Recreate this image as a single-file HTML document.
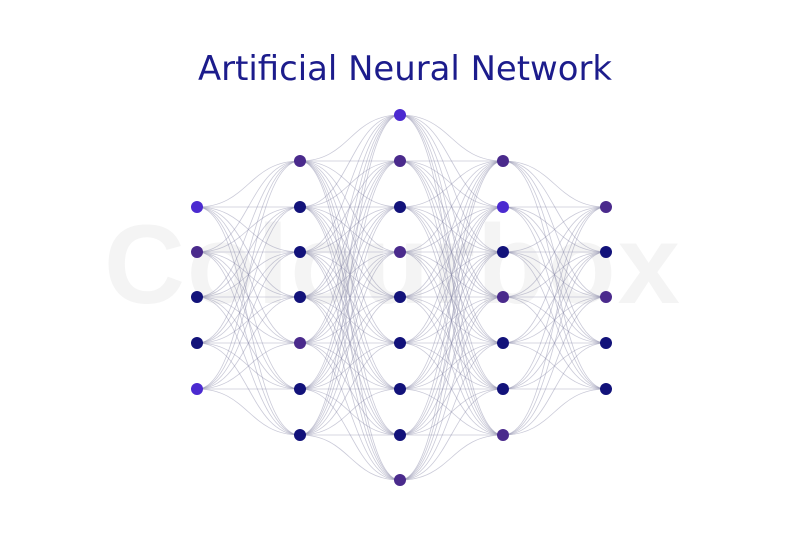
<!DOCTYPE html>
<html><head><meta charset="utf-8"><style>
html,body{margin:0;padding:0;background:#fff;}
svg{display:block;}
</style></head><body>
<svg id="s" width="800" height="534" viewBox="0 0 800 534" xmlns="http://www.w3.org/2000/svg">
<rect width="800" height="534" fill="#fff"/>
<text x="393" y="303" text-anchor="middle" font-family="Liberation Sans, sans-serif" font-weight="bold" font-size="112" fill="#f4f4f4" letter-spacing="2">Colourbox</text>
<text x="405" y="80" text-anchor="middle" font-family="DejaVu Sans, sans-serif" font-size="34" fill="#1c1c8c" textLength="414" lengthAdjust="spacingAndGlyphs">Artificial Neural Network</text>
<g id="edges" fill="none" stroke="#8a8aa8" stroke-opacity="0.45" stroke-width="0.8"></g>
<g id="nodes"></g>
</svg>
<script>
var xs=[197,300,400,503,606];
var r5=[207,252,297,343,389],r7=[161,207,252,297,343,389,435],r9=[115,161,207,252,297,343,389,435,480];
var cols=[r5,r7,r9,r7,r5];
var B="#4b2ad0",P="#4a2a8c",N="#12127a";
var cc=[[B,P,N,N,B],[P,N,N,N,P,N,N],[B,P,N,P,N,N,N,N,P],[P,B,N,P,N,N,P],[P,N,P,N,N]];
var ns="http://www.w3.org/2000/svg",e=document.getElementById("edges"),n=document.getElementById("nodes");
for(var c=0;c<4;c++){var x1=xs[c],x2=xs[c+1],m=(x1+x2)/2;
 cols[c].forEach(function(a){cols[c+1].forEach(function(b){
  var p=document.createElementNS(ns,"path");
  p.setAttribute("d","M"+x1+","+a+" C"+m+","+a+" "+m+","+b+" "+x2+","+b);e.appendChild(p);});});}
cols.forEach(function(col,c){col.forEach(function(y,i){
 var k=document.createElementNS(ns,"circle");k.setAttribute("cx",xs[c]);k.setAttribute("cy",y);k.setAttribute("r",6);k.setAttribute("fill",cc[c][i]);n.appendChild(k);});});
</script>
</body></html>
